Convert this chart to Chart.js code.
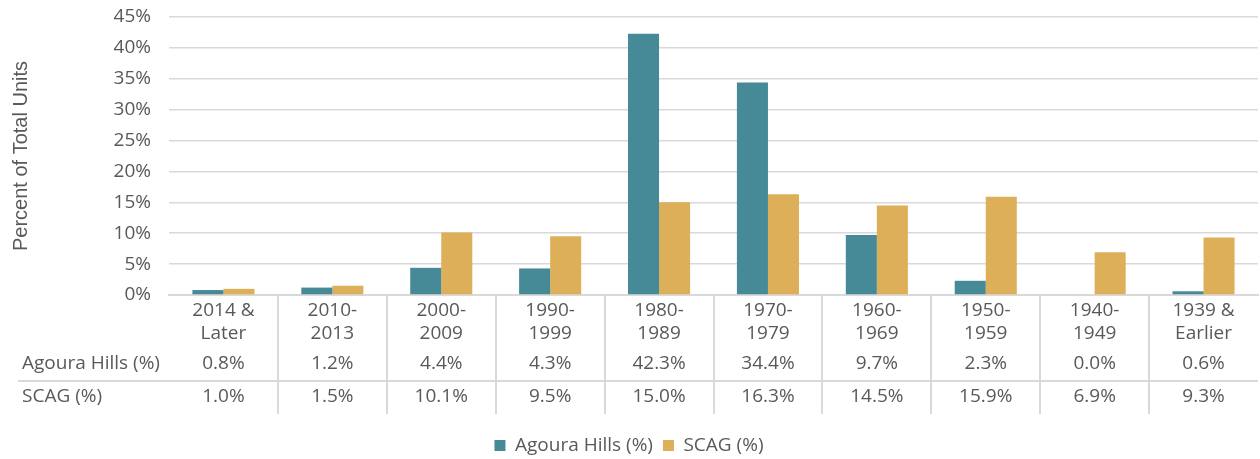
<!DOCTYPE html>
<html>
<head>
<meta charset="utf-8">
<script src="https://cdn.jsdelivr.net/npm/chart.js@4"></script>
<style>
  html, body { margin: 0; padding: 0; background: #fff; }
  #wrap { width: 1260px; height: 459px; }
</style>
</head>
<body>
<div id="wrap"><canvas id="yearBuiltChart" width="1260" height="459"></canvas></div>
<script>
var categories = [
    ['2014 &', 'Later'], ['2010-', '2013'], ['2000-', '2009'], ['1990-', '1999'],
    ['1980-', '1989'], ['1970-', '1979'], ['1960-', '1969'], ['1950-', '1959'],
    ['1940-', '1949'], ['1939 &', 'Earlier']
];
var agouraHills = [0.8, 1.2, 4.4, 4.3, 42.3, 34.4, 9.7, 2.3, 0.0, 0.6];
var scag = [1.0, 1.5, 10.1, 9.5, 15.0, 16.3, 14.5, 15.9, 6.9, 9.3];
var yTicks = [0, 5, 10, 15, 20, 25, 30, 35, 40, 45];

var textColor = '#595959';
var lineColor = '#d9d9d9';
var fontFamily = '"Open Sans", "Liberation Sans", sans-serif';
var fontSize = 19;

// draws the data table under the x labels
var dataTable = {
    id: 'dataTable',
    afterDraw: function(chart) {
        var ctx = chart.ctx;
        var x = chart.scales.x;
        var area = chart.chartArea;
        var rows = [
            { label: 'Agoura Hills (%)', values: agouraHills, y: 364 },
            { label: 'SCAG (%)', values: scag, y: 397 }
        ];
        ctx.save();
        ctx.strokeStyle = lineColor;
        ctx.lineWidth = 2;
        ctx.beginPath();
        for (var i = 1; i < categories.length; i++) {
            var bx = Math.round((x.getPixelForValue(i - 1) + x.getPixelForValue(i)) / 2);
            ctx.moveTo(bx, area.bottom + 1);
            ctx.lineTo(bx, 414);
        }
        ctx.moveTo(18, 381);
        ctx.lineTo(area.right, 381);
        ctx.stroke();

        ctx.fillStyle = textColor;
        ctx.font = fontSize + 'px ' + fontFamily;
        ctx.textBaseline = 'middle';
        rows.forEach(function(r) {
            ctx.textAlign = 'left';
            ctx.fillText(r.label, 22, r.y);
            ctx.textAlign = 'center';
            r.values.forEach(function(v, j) {
                ctx.fillText(v.toFixed(1) + '%', x.getPixelForValue(j), r.y);
            });
        });
        ctx.restore();
    }
};

new Chart(document.getElementById('yearBuiltChart'), {
    type: 'bar',
    data: {
        labels: categories,
        datasets: [{
            label: 'Agoura Hills (%)',
            data: agouraHills,
            backgroundColor: '#468A98',
            barPercentage: 1,
            categoryPercentage: 0.57
        }, {
            label: 'SCAG (%)',
            data: scag,
            backgroundColor: '#DDAF58',
            barPercentage: 1,
            categoryPercentage: 0.57
        }]
    },
    options: {
        responsive: false,
        animation: false,
        devicePixelRatio: 1,
        layout: { padding: { top: 0, right: 2, left: 0, bottom: -6 } },
        plugins: {
            tooltip: { enabled: false },
            legend: {
                position: 'bottom',
                labels: {
                    color: textColor,
                    font: { family: fontFamily, size: fontSize },
                    boxWidth: 11,
                    boxHeight: 11,
                    padding: 10
                }
            }
        },
        scales: {
            x: {
                grid: { display: false, drawTicks: false },
                border: { color: lineColor, width: 2 },
                ticks: {
                    color: textColor,
                    font: { family: fontFamily, size: fontSize, lineHeight: 1.21 },
                    padding: 4,
                    maxRotation: 0,
                    autoSkip: false
                },
                afterFit: function(s) { s.height = 131; }
            },
            y: {
                min: 0,
                max: 45,
                afterBuildTicks: function(s) {
                    s.ticks = yTicks.map(function(v) { return { value: v }; });
                },
                grid: { color: lineColor, lineWidth: 1.5, drawTicks: false },
                border: { display: false },
                ticks: {
                    color: textColor,
                    font: { family: fontFamily, size: fontSize },
                    padding: 18,
                    callback: function(v) { return v + '%'; }
                },
                title: {
                    display: true,
                    text: 'Percent of Total Units',
                    color: textColor,
                    font: { family: '"Liberation Sans", Arial, sans-serif', size: 20 },
                    padding: { top: 9, bottom: 0 }
                },
                afterFit: function(s) { s.width = 169; s.paddingTop = 17; }
            }
        }
    },
    plugins: [dataTable]
});
</script>
</body>
</html>
